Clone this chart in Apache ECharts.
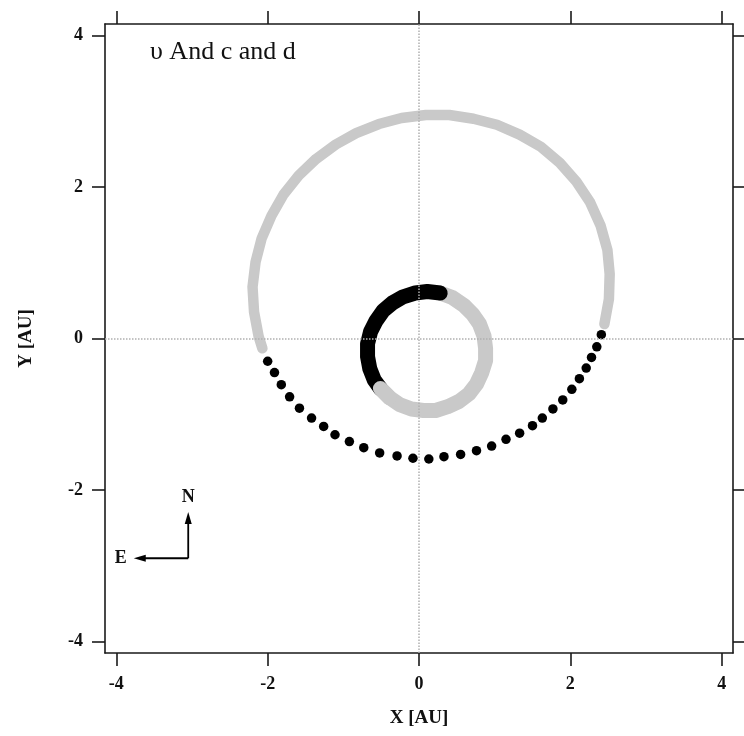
<!DOCTYPE html>
<html>
<head>
<meta charset="utf-8">
<script src="https://cdn.jsdelivr.net/npm/echarts@6/dist/echarts.min.js"></script>
<style>
  html, body { margin: 0; padding: 0; background: #ffffff; }
  #chart { width: 744px; height: 736px; }
</style>
</head>
<body>
<div id="chart"></div>
<script>
// Axis ticks (AU)
const tickValues = [-4, -2, 0, 2, 4];

// Planet d: sky-projected orbit, unobserved part (grey band)
const dGrayX = [2.45, 2.51, 2.52, 2.49, 2.40, 2.26, 2.08, 1.86, 1.61, 1.33, 1.03, 0.72, 0.40, 0.09, -0.23, -0.53, -0.83, -1.10, -1.36, -1.59, -1.79, -1.95, -2.08, -2.16, -2.20, -2.18, -2.12, -2.07];
const dGrayY = [0.19, 0.52, 0.85, 1.17, 1.49, 1.80, 2.07, 2.32, 2.53, 2.69, 2.82, 2.90, 2.95, 2.95, 2.91, 2.83, 2.71, 2.56, 2.37, 2.15, 1.90, 1.62, 1.32, 1.01, 0.68, 0.35, 0.03, -0.13];

// Planet d: observed epochs (black dots)
const dBlackX = [-2.00, -1.91, -1.82, -1.71, -1.58, -1.42, -1.26, -1.11, -0.92, -0.73, -0.52, -0.29, -0.08, 0.13, 0.33, 0.55, 0.76, 0.96, 1.15, 1.33, 1.50, 1.63, 1.77, 1.90, 2.02, 2.12, 2.21, 2.28, 2.35, 2.41];
const dBlackY = [-0.30, -0.45, -0.61, -0.77, -0.92, -1.05, -1.16, -1.27, -1.36, -1.44, -1.51, -1.55, -1.58, -1.59, -1.56, -1.53, -1.48, -1.42, -1.33, -1.25, -1.15, -1.05, -0.93, -0.81, -0.67, -0.53, -0.39, -0.25, -0.11, 0.05];

// Planet c: unobserved part of the orbit (grey)
const cGrayX = [-0.51, -0.39, -0.26, -0.10, 0.06, 0.22, 0.38, 0.53, 0.66, 0.76, 0.83, 0.88, 0.88, 0.86, 0.80, 0.71, 0.59, 0.44, 0.28];
const cGrayY = [-0.66, -0.78, -0.87, -0.93, -0.95, -0.95, -0.90, -0.83, -0.73, -0.60, -0.45, -0.29, -0.13, 0.03, 0.19, 0.32, 0.44, 0.54, 0.60];

// Planet c: observed part of the orbit (black)
const cBlackX = [0.28, 0.11, -0.05, -0.21, -0.35, -0.47, -0.57, -0.64, -0.68, -0.68, -0.65, -0.59, -0.51];
const cBlackY = [0.60, 0.62, 0.60, 0.55, 0.47, 0.37, 0.23, 0.09, -0.07, -0.24, -0.40, -0.55, -0.66];

const zip = (xs, ys) => xs.map((x, i) => [x, ys[i]]);

const SERIF = '"Liberation Serif", "DejaVu Serif", serif';
const GREY = '#c9c9c9';
const AXIS_COLOR = '#1a1a1a';
const RANGE = 4.15;

// compass (N up, E left): corner and arm lengths in AU
const compass = { x: -3.05, y: -2.9, nLen: 0.61, eLen: 0.72 };

function valueAxis(position, showLabels, name) {
  const isX = position === 'bottom' || position === 'top';
  return {
    type: 'value',
    position: position,
    min: -RANGE,
    max: RANGE,
    name: name || '',
    nameLocation: 'middle',
    nameGap: isX ? 56 : 69,
    nameRotate: isX ? 0 : 90,
    nameTextStyle: { fontFamily: SERIF, fontSize: 19, fontWeight: 'bold', color: '#111' },
    axisLine: { show: true, onZero: false, lineStyle: { color: AXIS_COLOR, width: 1.6 } },
    axisTick: { show: true, inside: false, length: 13, customValues: tickValues, lineStyle: { color: AXIS_COLOR, width: 1.6 } },
    axisLabel: {
      show: showLabels,
      customValues: tickValues,
      margin: 22,
      fontFamily: SERIF,
      fontSize: 18,
      fontWeight: 'bold',
      color: '#111'
    },
    splitLine: { show: false }
  };
}

const chart = echarts.init(document.getElementById('chart'), null, { renderer: 'canvas' });

chart.setOption({
  animation: false,
  backgroundColor: '#ffffff',
  grid: { left: 105, right: 11, top: 24, bottom: 83, containLabel: false },
  title: {
    text: 'υ And c and d',
    left: 145,
    top: 34,
    textStyle: { fontFamily: SERIF, fontSize: 26, fontWeight: 'normal', color: '#111' }
  },
  xAxis: [valueAxis('bottom', true, 'X [AU]'), valueAxis('top', false)],
  yAxis: [valueAxis('left', true, 'Y [AU]'), valueAxis('right', false)],
  series: [
    {
      // dotted reference lines through the star
      type: 'line',
      data: [],
      z: 1,
      markLine: {
        silent: true,
        symbol: 'none',
        label: { show: false },
        lineStyle: { type: 'dotted', color: '#b0b0b0', width: 1.5 },
        data: [{ xAxis: 0 }, { yAxis: 0 }]
      }
    },
    {
      name: 'd unobserved',
      type: 'line',
      data: zip(dGrayX, dGrayY),
      showSymbol: false,
      z: 2,
      lineStyle: { color: GREY, width: 10.5, cap: 'round', join: 'round' }
    },
    {
      name: 'd observed',
      type: 'scatter',
      data: zip(dBlackX, dBlackY),
      symbol: 'circle',
      symbolSize: 9.5,
      z: 3,
      itemStyle: { color: '#000000', opacity: 1 }
    },
    {
      name: 'c unobserved',
      type: 'line',
      data: zip(cGrayX, cGrayY),
      showSymbol: false,
      z: 2,
      lineStyle: { color: GREY, width: 15, cap: 'round', join: 'round' }
    },
    {
      name: 'c observed',
      type: 'line',
      data: zip(cBlackX, cBlackY),
      showSymbol: false,
      z: 3,
      lineStyle: { color: '#000000', width: 15, cap: 'round', join: 'round' }
    },
    {
      // grey start of c's band overlapping the black end
      type: 'line',
      data: zip(cGrayX.slice(0, 2), cGrayY.slice(0, 2)),
      showSymbol: false,
      z: 4,
      lineStyle: { color: GREY, width: 15, cap: 'round' }
    }
  ]
});

// Compass: positioned through the grid's own coordinate conversion
(function drawCompass() {
  const toPx = (p) => chart.convertToPixel({ gridIndex: 0 }, p);
  const o = toPx([compass.x, compass.y]);
  const n = toPx([compass.x, compass.y + compass.nLen]);
  const e = toPx([compass.x - compass.eLen, compass.y]);
  const head = 12, half = 3.5;
  const lineStyle = { stroke: '#000', lineWidth: 1.8 };
  const textStyle = { fontFamily: SERIF, fontSize: 18, fontWeight: 'bold', fill: '#111', align: 'center', verticalAlign: 'middle' };
  chart.setOption({
    graphic: [
      { type: 'line', silent: true, z: 10, shape: { x1: o[0], y1: o[1], x2: n[0], y2: n[1] + head - 1 }, style: lineStyle },
      { type: 'line', silent: true, z: 10, shape: { x1: o[0], y1: o[1], x2: e[0] + head - 1, y2: e[1] }, style: lineStyle },
      { type: 'polygon', silent: true, z: 10, shape: { points: [[n[0], n[1]], [n[0] - half, n[1] + head], [n[0] + half, n[1] + head]] }, style: { fill: '#000' } },
      { type: 'polygon', silent: true, z: 10, shape: { points: [[e[0], e[1]], [e[0] + head, e[1] - half], [e[0] + head, e[1] + half]] }, style: { fill: '#000' } },
      { type: 'text', silent: true, z: 10, x: n[0], y: n[1] - 15, style: Object.assign({ text: 'N' }, textStyle) },
      { type: 'text', silent: true, z: 10, x: e[0] - 13, y: e[1], style: Object.assign({ text: 'E' }, textStyle) }
    ]
  });
})();
</script>
</body>
</html>
